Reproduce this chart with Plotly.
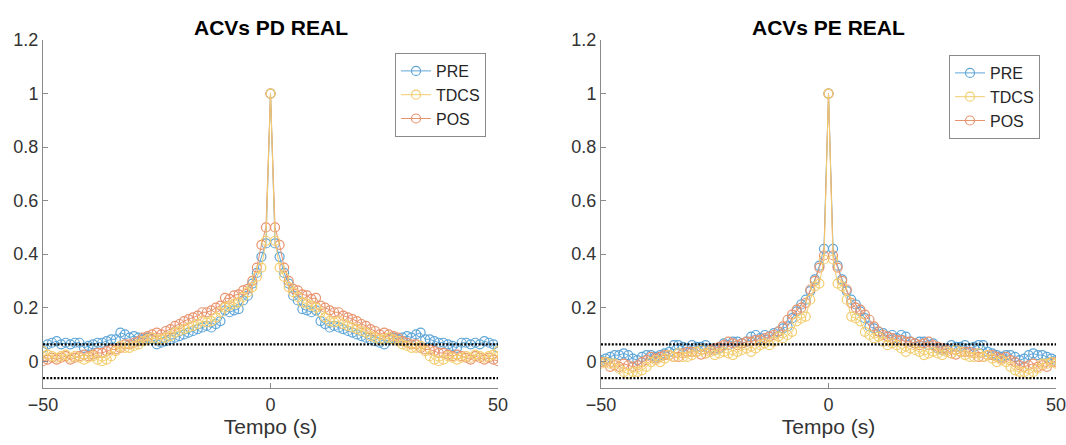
import plotly.graph_objects as go

# Lags (s)
LAGS = list(range(-50, 51))

# Autocorrelation values for lags 0..50 (the ACV is symmetric, negative lags mirror these)
PD_PRE = [1.0, 0.44, 0.39, 0.33, 0.29, 0.245, 0.227, 0.195, 0.19, 0.183, 0.19,
          0.15, 0.139, 0.126, 0.132, 0.126, 0.12, 0.113, 0.107, 0.1, 0.094,
          0.088, 0.082, 0.075, 0.069, 0.063, 0.082, 0.088, 0.082, 0.088, 0.094,
          0.088, 0.1, 0.107, 0.082, 0.082, 0.075, 0.069, 0.069, 0.063, 0.057,
          0.05, 0.069, 0.069, 0.063, 0.069, 0.063, 0.075, 0.069, 0.063, 0.05]
PD_TDCS = [1.0, 0.45, 0.35, 0.315, 0.277, 0.258, 0.24, 0.22, 0.214, 0.208, 0.2,
           0.183, 0.164, 0.15, 0.145, 0.15, 0.139, 0.132, 0.126, 0.12, 0.113,
           0.107, 0.094, 0.088, 0.082, 0.082, 0.088, 0.082, 0.075, 0.063, 0.057,
           0.05, 0.05, 0.057, 0.038, 0.019, 0.006, 0.0, 0.006, 0.019, 0.013,
           0.006, 0.013, 0.019, 0.013, 0.025, 0.019, 0.013, 0.019, 0.025, 0.038]
PD_POS = [1.0, 0.50, 0.435, 0.35, 0.30, 0.27, 0.265, 0.25, 0.246, 0.233, 0.237,
          0.208, 0.2, 0.19, 0.183, 0.183, 0.17, 0.164, 0.157, 0.15, 0.139,
          0.132, 0.12, 0.113, 0.1, 0.107, 0.1, 0.094, 0.088, 0.075, 0.069,
          0.063, 0.063, 0.05, 0.044, 0.044, 0.038, 0.031, 0.031, 0.025, 0.019,
          0.025, 0.019, 0.013, 0.006, 0.019, 0.013, 0.006, 0.013, 0.006, 0.0]

PE_PRE = [1.0, 0.42, 0.357, 0.306, 0.262, 0.23, 0.212, 0.186, 0.161, 0.13, 0.123,
          0.111, 0.105, 0.092, 0.098, 0.086, 0.098, 0.092, 0.073, 0.067, 0.073,
          0.073, 0.06, 0.067, 0.048, 0.042, 0.048, 0.06, 0.054, 0.054, 0.06,
          0.048, 0.054, 0.06, 0.06, 0.035, 0.029, 0.023, 0.016, 0.023, 0.023,
          0.016, 0.004, 0.01, 0.023, 0.029, 0.023, 0.023, 0.016, 0.01, 0.004]
PE_TDCS = [1.0, 0.38, 0.29, 0.28, 0.23, 0.167, 0.16, 0.149, 0.11, 0.098, 0.086,
           0.092, 0.073, 0.06, 0.067, 0.06, 0.048, 0.035, 0.048, 0.042, 0.035,
           0.023, 0.029, 0.035, 0.029, 0.023, 0.035, 0.029, 0.042, 0.035, 0.023,
           0.016, 0.016, 0.029, 0.016, 0.023, 0.01, -0.003, 0.004, -0.003, -0.021,
           -0.034, -0.04, -0.04, -0.047, -0.04, -0.028, -0.009, -0.009, -0.003, -0.009]
PE_POS = [1.0, 0.395, 0.35, 0.30, 0.268, 0.218, 0.2, 0.193, 0.174, 0.155, 0.13,
          0.111, 0.098, 0.092, 0.086, 0.079, 0.079, 0.073, 0.073, 0.067, 0.06,
          0.067, 0.073, 0.06, 0.054, 0.048, 0.042, 0.029, 0.025, 0.035, 0.035,
          0.035, 0.029, 0.016, 0.016, 0.023, 0.023, 0.016, 0.01, 0.016, 0.004,
          -0.003, -0.015, -0.021, -0.015, -0.009, -0.021, -0.015, -0.021, -0.003, -0.003]

CONF = 0.063  # confidence bound (±)
TITLES = ["ACVs PD REAL", "ACVs PE REAL"]
X_TICKS = [-50, 0, 50]
Y_TICKS = [0, 0.2, 0.4, 0.6, 0.8, 1.0, 1.2]
Y_LABELS = ["0", "0.2", "0.4", "0.6", "0.8", "1", "1.2"]

COLORS = {"PRE": "#5fa6d8",
          "TDCS": "#f3cd6e",
          "POS": "#e8936d"}
RANK = {"PRE": 1, "TDCS": 2, "POS": 3}
FONT = "Liberation Sans, Arial, sans-serif"


def mirror(half):
    return half[:0:-1] + half


data = [
    {"PRE": PD_PRE, "TDCS": PD_TDCS, "POS": PD_POS},
    {"PRE": PE_PRE, "TDCS": PE_TDCS, "POS": PE_POS},
]

fig = go.Figure()
for i, d in enumerate(data):
    xa = "x" if i == 0 else "x2"
    ya = "y" if i == 0 else "y2"
    lg = "legend" if i == 0 else "legend2"
    for name in ["PRE", "POS", "TDCS"]:
        fig.add_trace(go.Scatter(
            x=LAGS, y=mirror(d[name]), name=name, mode="lines+markers",
            line=dict(color=COLORS[name], width=1),
            marker=dict(symbol="circle-open", size=9,
                        color=COLORS[name], line=dict(color=COLORS[name], width=1.2)),
            xaxis=xa, yaxis=ya, legend=lg, legendrank=RANK[name]))
    for s in (1, -1):
        fig.add_trace(go.Scatter(
            x=[LAGS[0], LAGS[-1]], y=[s * CONF, s * CONF], mode="lines",
            line=dict(color="black", width=2.4, dash="2px,1.6px"),
            showlegend=False, xaxis=xa, yaxis=ya, hoverinfo="skip"))

axis_common = dict(showline=True, linecolor="#8a8a8a", linewidth=1,
                   ticks="inside", ticklen=5, tickcolor="#8a8a8a",
                   showgrid=False, zeroline=False, automargin=False,
                   ticklabeloverflow="allow",
                   tickfont=dict(family=FONT, size=18, color="#333333"))

xdoms = [[43 / 1066, 498 / 1066], [601 / 1066, 1056 / 1066]]
for i in range(2):
    sfx = "" if i == 0 else "2"
    fig.layout["xaxis" + sfx] = dict(
        domain=xdoms[i], range=[-50, 50], tickvals=X_TICKS,
        anchor="y" + sfx,
        title=dict(text="Tempo (s)", font=dict(family=FONT, size=21, color="#333333"),
                   standoff=2),
        **axis_common)
    fig.layout["yaxis" + sfx] = dict(
        domain=[0, 1], range=[-0.1, 1.2], tickvals=Y_TICKS, ticktext=Y_LABELS,
        anchor="x" + sfx, **axis_common)
    fig.add_annotation(text="<b>" + TITLES[i] + "</b>", xref="paper", yref="paper",
                       x=sum(xdoms[i]) / 2, y=1 + 13 / 348, xanchor="center",
                       yanchor="middle", showarrow=False,
                       font=dict(family=FONT, size=21, color="black"))

legend_common = dict(bgcolor="white", bordercolor="#8a8a8a", borderwidth=1,
                     font=dict(family=FONT, size=16, color="#262626"),
                     xanchor="right", yanchor="top", traceorder="normal",
                     itemwidth=30, tracegroupgap=0)
fig.update_layout(
    width=1066, height=445,
    margin=dict(l=0, r=0, t=40, b=57),
    paper_bgcolor="white", plot_bgcolor="white",
    legend=dict(x=486 / 1066, y=1 - 13 / 348, **legend_common),
    legend2=dict(x=1040 / 1066, y=1 - 15 / 348, **legend_common),
)

fig.write_html("out.html")
